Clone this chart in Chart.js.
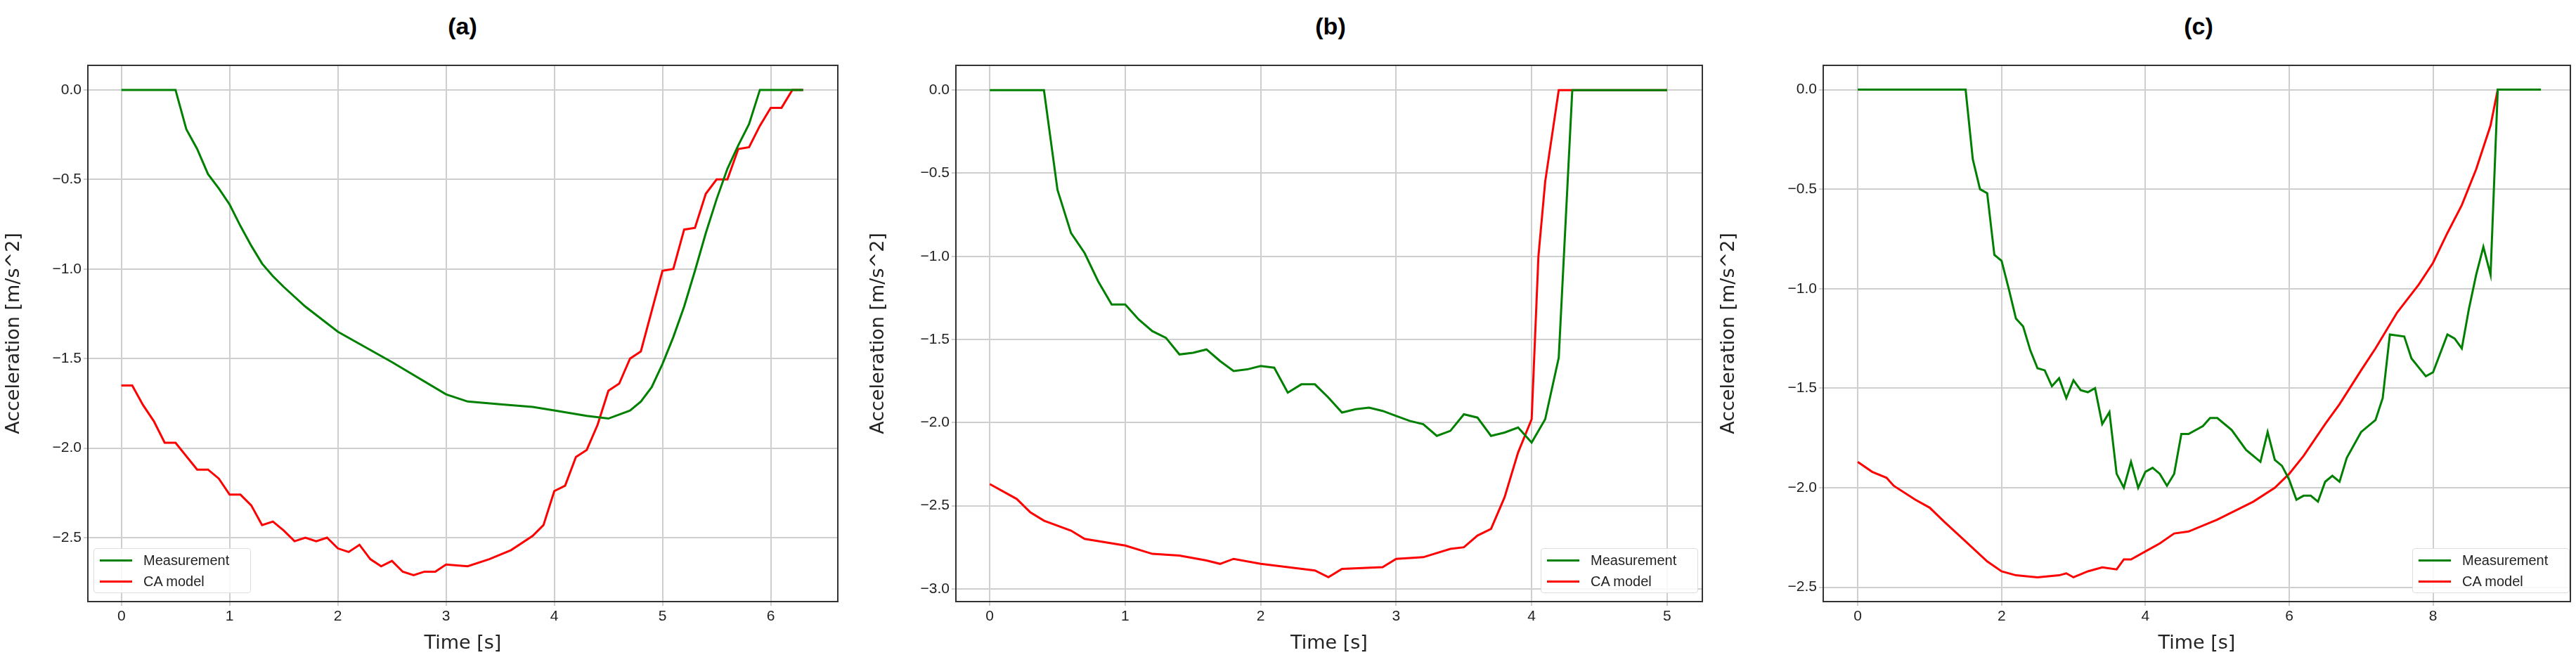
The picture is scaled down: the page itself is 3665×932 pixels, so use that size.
<!DOCTYPE html>
<html>
<head>
<meta charset="utf-8">
<script src="https://cdn.jsdelivr.net/npm/chart.js@4"></script>
<style>
  body { margin: 0; background: #fff; width: 3665px; height: 932px; position: relative; overflow: hidden; font-family: "DejaVu Sans", sans-serif; }
  canvas { position: absolute; top: 60px; }
  .title { position: absolute; top: 18px; font: bold 34px "Liberation Sans", sans-serif; transform: translateX(-50%); }
  .legend { position: absolute; top: 780px; height: 62px; border: 1px solid #ddd; border-radius: 4px; background: rgba(255,255,255,0.85); font: 20px "Liberation Sans Narrow", "Liberation Sans", sans-serif; color: #222; }
  .legend div { position: relative; height: 28px; line-height: 28px; padding-left: 70px; margin-top: 2px; }
  .legend span { position: absolute; left: 8px; top: 13px; width: 46px; height: 3px; }
</style>
</head>
<body>
<canvas id="ca" width="1200" height="872" style="left:0px"></canvas>
<canvas id="cb" width="1200" height="872" style="left:1230px"></canvas>
<canvas id="cc" width="1225" height="872" style="left:2440px"></canvas>

<div class="title" style="left:658px">(a)</div>
<div class="title" style="left:1893px">(b)</div>
<div class="title" style="left:3128px">(c)</div>

<div class="legend" style="left:133px;width:222px"><div><span style="background:#008000"></span>Measurement</div><div><span style="background:#ff0000"></span>CA model</div></div>
<div class="legend" style="left:2192px;width:222px"><div><span style="background:#008000"></span>Measurement</div><div><span style="background:#ff0000"></span>CA model</div></div>
<div class="legend" style="left:3432px;width:222px"><div><span style="background:#008000"></span>Measurement</div><div><span style="background:#ff0000"></span>CA model</div></div>

<script>
// Panel (a)
const aMeasT = [0, 0.5, 0.6, 0.7, 0.8, 0.9, 1.0, 1.1, 1.2, 1.3, 1.4, 1.5, 1.7, 2.0, 2.5, 3.0, 3.2, 3.5, 3.8, 4.0, 4.3, 4.5, 4.7, 4.8, 4.9, 5.0, 5.1, 5.2, 5.3, 5.4, 5.5, 5.6, 5.7, 5.8, 5.9, 6.3];
const aMeasV = [0, 0, -0.22, -0.33, -0.47, -0.55, -0.64, -0.76, -0.87, -0.97, -1.04, -1.10, -1.21, -1.35, -1.52, -1.70, -1.74, -1.755, -1.77, -1.79, -1.82, -1.835, -1.79, -1.74, -1.66, -1.53, -1.38, -1.21, -1.01, -0.80, -0.61, -0.44, -0.31, -0.19, 0, 0];
const aCaT = [0, 0.1, 0.2, 0.3, 0.4, 0.5, 0.7, 0.8, 0.9, 1.0, 1.1, 1.2, 1.3, 1.4, 1.5, 1.6, 1.7, 1.8, 1.9, 2.0, 2.1, 2.2, 2.3, 2.4, 2.5, 2.6, 2.7, 2.8, 2.9, 3.0, 3.2, 3.4, 3.6, 3.8, 3.9, 4.0, 4.1, 4.2, 4.3, 4.4, 4.5, 4.6, 4.7, 4.8, 5.0, 5.1, 5.2, 5.3, 5.4, 5.5, 5.6, 5.7, 5.8, 5.9, 6.0, 6.1, 6.2, 6.3];
const aCaV = [-1.65, -1.65, -1.76, -1.85, -1.97, -1.97, -2.12, -2.12, -2.17, -2.26, -2.26, -2.32, -2.43, -2.41, -2.46, -2.52, -2.50, -2.52, -2.50, -2.56, -2.58, -2.54, -2.62, -2.66, -2.63, -2.69, -2.71, -2.69, -2.69, -2.65, -2.66, -2.62, -2.57, -2.49, -2.43, -2.24, -2.21, -2.05, -2.01, -1.87, -1.68, -1.64, -1.50, -1.46, -1.01, -1.00, -0.78, -0.77, -0.58, -0.50, -0.50, -0.33, -0.32, -0.20, -0.10, -0.10, 0, 0];

// Panel (b)
const bMeasT = [0, 0.4, 0.5, 0.6, 0.7, 0.8, 0.9, 1.0, 1.1, 1.2, 1.3, 1.4, 1.5, 1.6, 1.7, 1.8, 1.9, 2.0, 2.1, 2.2, 2.3, 2.4, 2.5, 2.6, 2.7, 2.8, 2.9, 3.0, 3.1, 3.2, 3.3, 3.4, 3.5, 3.6, 3.7, 3.8, 3.9, 4.0, 4.1, 4.2, 4.3, 5.0];
const bMeasV = [0, 0, -0.6, -0.86, -0.98, -1.15, -1.29, -1.29, -1.38, -1.45, -1.49, -1.59, -1.58, -1.56, -1.63, -1.69, -1.68, -1.66, -1.67, -1.82, -1.77, -1.77, -1.85, -1.94, -1.92, -1.91, -1.93, -1.96, -1.99, -2.01, -2.08, -2.05, -1.95, -1.97, -2.08, -2.06, -2.03, -2.12, -1.98, -1.61, 0, 0];
const bCaT = [0, 0.2, 0.3, 0.4, 0.6, 0.7, 1.0, 1.2, 1.4, 1.6, 1.7, 1.8, 2.0, 2.2, 2.4, 2.5, 2.6, 2.9, 3.0, 3.2, 3.4, 3.5, 3.6, 3.7, 3.8, 3.9, 4.0, 4.05, 4.1, 4.2, 5.0];
const bCaV = [-2.37, -2.46, -2.54, -2.59, -2.65, -2.70, -2.74, -2.79, -2.80, -2.83, -2.85, -2.82, -2.85, -2.87, -2.89, -2.93, -2.88, -2.87, -2.82, -2.81, -2.76, -2.75, -2.68, -2.64, -2.45, -2.18, -1.98, -1.0, -0.55, 0, 0];

// Panel (c)
const cMeasT = [0, 1.5, 1.6, 1.7, 1.8, 1.9, 2.0, 2.1, 2.2, 2.3, 2.4, 2.5, 2.6, 2.7, 2.8, 2.9, 3.0, 3.1, 3.2, 3.3, 3.4, 3.5, 3.6, 3.7, 3.8, 3.9, 4.0, 4.1, 4.2, 4.3, 4.4, 4.5, 4.6, 4.8, 4.9, 5.0, 5.2, 5.4, 5.6, 5.7, 5.8, 5.9, 6.0, 6.1, 6.2, 6.3, 6.4, 6.5, 6.6, 6.7, 6.8, 7.0, 7.2, 7.3, 7.4, 7.6, 7.7, 7.9, 8.0, 8.2, 8.3, 8.4, 8.5, 8.6, 8.7, 8.8, 8.9, 9.5];
const cMeasV = [0, 0, -0.35, -0.5, -0.52, -0.83, -0.86, -1.0, -1.15, -1.19, -1.31, -1.4, -1.41, -1.49, -1.45, -1.55, -1.46, -1.51, -1.52, -1.50, -1.68, -1.62, -1.93, -2.0, -1.87, -2.0, -1.92, -1.90, -1.93, -1.99, -1.93, -1.73, -1.73, -1.69, -1.65, -1.65, -1.71, -1.81, -1.87, -1.72, -1.86, -1.89, -1.96, -2.06, -2.04, -2.04, -2.07, -1.97, -1.94, -1.97, -1.85, -1.72, -1.66, -1.55, -1.23, -1.24, -1.35, -1.44, -1.42, -1.23, -1.25, -1.30, -1.10, -0.93, -0.79, -0.93, 0, 0];
const cCaT = [0, 0.2, 0.4, 0.5, 0.8, 1.0, 1.2, 1.5, 1.8, 2.0, 2.2, 2.5, 2.8, 2.9, 3.0, 3.2, 3.4, 3.6, 3.7, 3.8, 4.0, 4.2, 4.4, 4.6, 5.0, 5.5, 5.8, 6.0, 6.2, 6.5, 6.7, 7.0, 7.2, 7.5, 7.8, 8.0, 8.2, 8.4, 8.6, 8.8, 8.9, 9.5];
const cCaV = [-1.87, -1.92, -1.95, -1.99, -2.06, -2.1, -2.17, -2.27, -2.37, -2.42, -2.44, -2.45, -2.44, -2.43, -2.45, -2.42, -2.40, -2.41, -2.36, -2.36, -2.32, -2.28, -2.23, -2.22, -2.16, -2.07, -2.0, -1.93, -1.84, -1.68, -1.58, -1.41, -1.30, -1.12, -0.98, -0.87, -0.72, -0.58, -0.40, -0.18, 0, 0];

const GREEN = '#008000';
const RED = '#ff0000';

function pts(ts, vs) {
    return ts.map((t, i) => ({ x: t, y: vs[i] }));
}

// frame around the plot area like matplotlib
const framePlugin = {
    id: 'frame',
    afterDraw(chart) {
        const a = chart.chartArea;
        const ctx = chart.ctx;
        ctx.save();
        ctx.strokeStyle = '#333';
        ctx.lineWidth = 2;
        ctx.strokeRect(a.left, a.top, a.right - a.left, a.bottom - a.top);
        ctx.restore();
    }
};

// ticks at every multiple of step inside the range
const stepTicks = step => scale => {
    const ticks = [];
    for (let k = Math.ceil(scale.min / step - 1e-9); k * step <= scale.max + 1e-9; k++) {
        ticks.push({ value: Math.round(k * step * 10) / 10 });
    }
    scale.ticks = ticks;
};

function makeChart(id, meas, ca, xr, yr, xStep, yAxisWidth) {
    const tickFont = { family: '"Liberation Sans Narrow", "Liberation Sans", sans-serif', size: 21 };
    return new Chart(document.getElementById(id), {
        type: 'line',
        data: {
            datasets: [
                { label: 'Measurement', data: meas, borderColor: GREEN, borderWidth: 3, pointRadius: 0, tension: 0 },
                { label: 'CA model', data: ca, borderColor: RED, borderWidth: 3, pointRadius: 0, tension: 0 }
            ]
        },
        options: {
            responsive: false,
            animation: false,
            layout: { padding: { top: 33, right: 8 } },
            plugins: { legend: { display: false }, tooltip: { enabled: false } },
            scales: {
                x: {
                    type: 'linear',
                    min: xr[0], max: xr[1],
                    ticks: { font: tickFont, color: '#222', callback: v => String(v) },
                    afterBuildTicks: stepTicks(xStep),
                    afterFit: s => { s.height = 76; },
                    grid: { color: '#cfcfcf', lineWidth: 2, tickLength: 6 },
                    border: { display: false },
                    title: { display: true, text: 'Time [s]', font: { family: '"DejaVu Sans"', size: 27 }, color: '#222', padding: 0 }
                },
                y: {
                    min: yr[0], max: yr[1],
                    ticks: { font: tickFont, color: '#222', callback: v => (v < 0 ? '\u2212' : '') + Math.abs(v).toFixed(1) },
                    afterBuildTicks: stepTicks(0.5),
                    afterFit: s => { s.width = yAxisWidth; },
                    grid: { color: '#cfcfcf', lineWidth: 2, tickLength: 6 },
                    border: { display: false },
                    title: { display: true, text: 'Acceleration [m/s^2]', font: { family: '"DejaVu Sans"', size: 27 }, color: '#222' }
                }
            }
        },
        plugins: [framePlugin]
    });
}

makeChart('ca', pts(aMeasT, aMeasV), pts(aCaT, aCaV), [-0.31, 6.62], [-2.857, 0.137], 1, 125);
makeChart('cb', pts(bMeasT, bMeasV), pts(bCaT, bCaV), [-0.25, 5.26], [-3.077, 0.149], 1, 130);
makeChart('cc', pts(cMeasT, cMeasV), pts(cCaT, cCaV), [-0.48, 9.91], [-2.572, 0.122], 2, 154);
</script>
</body>
</html>
